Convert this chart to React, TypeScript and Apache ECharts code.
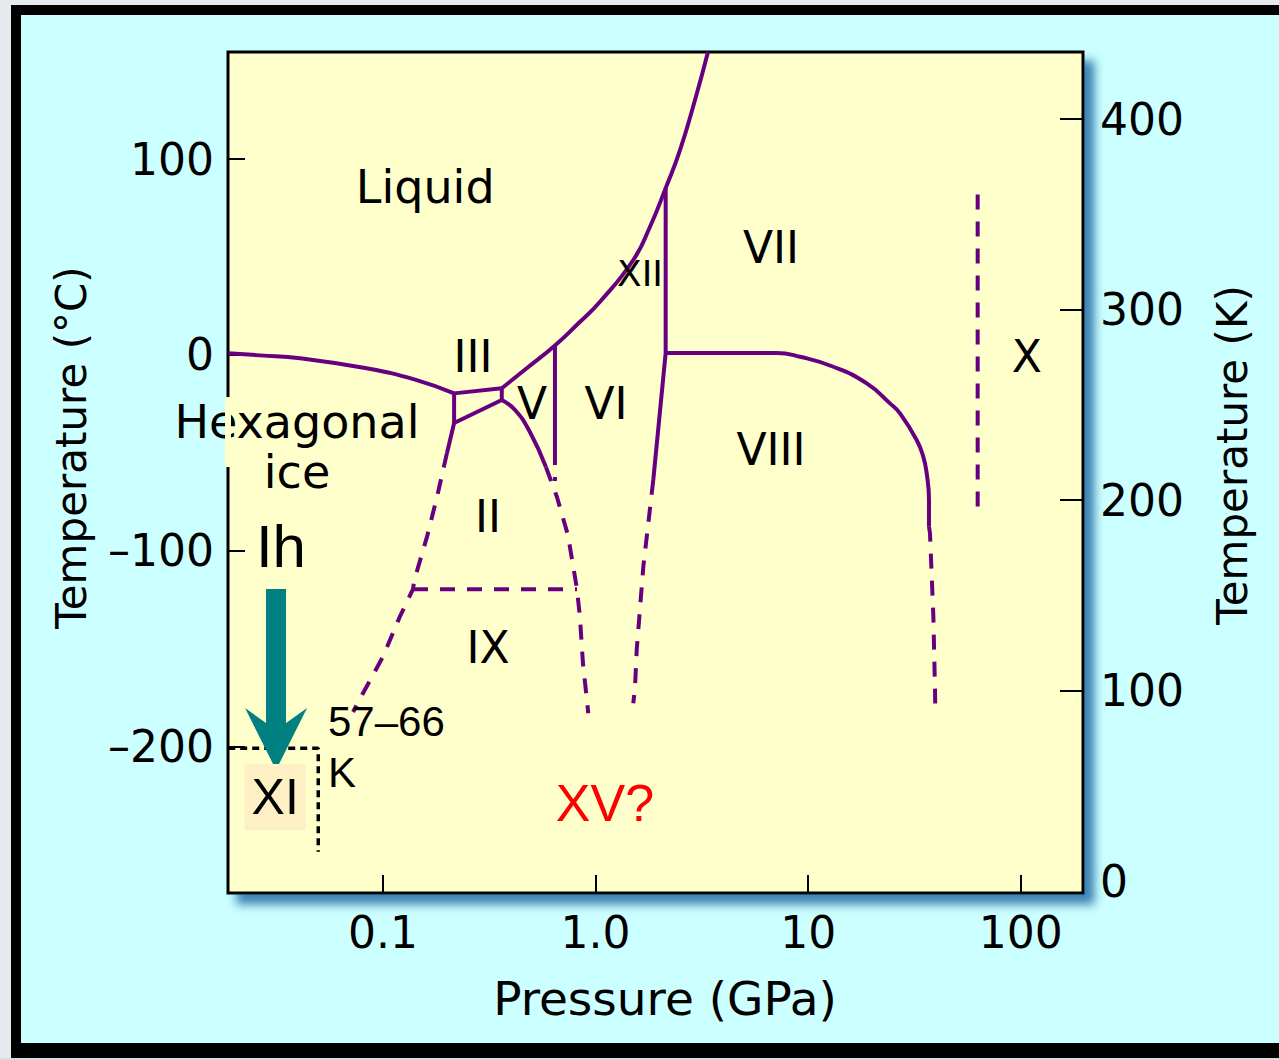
import React, { useEffect, useRef } from "react";
import * as echarts from "echarts";

// ---- axes ----
const pressureRange = [0.01866, 196.2]; // GPa (log)
const celsiusRange = [-274.7, 154.7];
const kelvinRange = [-6.1, 435.2];
const pressureTickLabels: Record<string, string> = { "-1": "0.1", "0": "1.0", "1": "10", "2": "100" };
const celsiusTickValues = [-200, -100, 0, 100];
const kelvinLabelValues = [0, 100, 200, 300, 400];
const kelvinTickValues = [100, 200, 300, 400];

// ---- phase boundaries: [pressure GPa, temperature °C] ----
const ihLiquid = [[0.0187, 0.9], [0.0264, -0.2], [0.0407, -1.7], [0.0838, -6.8], [0.144, -12.8], [0.216, -19.6]];
const iiiLiquid = [[0.216, -19.6], [0.362, -17.0]];
const highLiquid = [[0.362, -17.0], [0.4742, -6.8], [0.644, 4.9], [0.815, 15.3], [1.049, 27.2], [1.504, 48.5], [1.803, 65.5], [2.136, 85.2], [2.495, 104.6], [2.935, 130.2], [3.378, 154.7]];
const iceIIIBox = [[0.216, -19.6], [0.216, -34.7], [0.362, -23.0], [0.362, -17.0]];
const iiVSolid = [[0.362, -23.0], [0.418, -28.1], [0.491, -39.3], [0.584, -57.2]];
const iiVDashed = [[0.584, -57.2], [0.658, -72.5], [0.741, -91.9], [0.8, -113.4], [0.8175, -119.6], [0.844, -133.8], [0.872, -157.3], [0.924, -182.9]];
const ihIISolid = [[0.216, -34.7], [0.2, -50.0]];
const ihIIDashed = [[0.2, -50.0], [0.1795, -72.5], [0.161, -92.9], [0.14, -115.4], [0.1384, -119.6], [0.12, -133.6], [0.1, -154.0], [0.0805, -172.7], [0.0723, -182.3]];
const iiIXDashed = [[0.1384, -119.6], [0.8175, -119.6]];
const vViSolid = [[0.644, 4.9], [0.644, -48.5]];
const vViDashed = [[0.644, -48.5], [0.644, -64.3]];
const viVii = [[2.136, 85.2], [2.136, 1.0]];
const viiViiiSolid = [[2.136, 1.0], [7.11, 1.0], [9.15, -0.9], [13.13, -6.0], [18.85, -14.5], [24.25, -24.7], [27.03, -29.8], [32.37, -43.4], [34.78, -51.9], [36.09, -60.4], [37.0, -74.0], [37.0, -87.7]];
const viiViiiDashed = [[37.0, -87.7], [37.4, -90.9], [38.8, -133.6], [39.5, -171.0], [39.6, -179.6]];
const viViiiSolid = [[2.136, 1.0], [1.868, -63.8]];
const viViiiDashed = [[1.868, -63.8], [1.677, -108.1], [1.561, -150.6], [1.532, -170.2], [1.504, -177.8]];
const xBoundary = [[62.7, 82.0], [62.7, -82.6]];
const xiBoundary = [[0.0187, -200.8], [0.0496, -200.8], [0.0496, -253.6]];

// ---- labels ----
const regionLabels = ["Liquid", "III", "V", "VI", "XII", "VII", "VIII", "X", "Hexagonal\nice", "II", "IX"];
const regionLabelP = [0.158, 0.265, 0.502, 1.119, 1.618, 6.68, 6.68, 106.9, 0.0394, 0.312, 0.312];
const regionLabelT = [85.7, -1.0, -25.0, -25.0, 41.8, 55.1, -48.5, -1.0, -47.0, -82.7, -149.6];
const regionLabelSize = [46, 44, 44, 44, 36, 44, 44, 44, 46, 44, 44];

const noteLabels = ["Ih", "XI", "57–66\nK", "XV?"];
const noteLabelP = [0.0331, 0.0311, 0.0551, 1.107];
const noteLabelT = [-98.0, -225.7, -200.4, -228.7];

// cooling arrow Ih -> XI: pressure, start T, tip T
const arrowData = [[0.0314, -119.5, -211.9]];

const PURPLE = "#660080";
const FONT = "'DejaVu Sans', sans-serif";
const ARIAL = "'Liberation Sans', Arial, sans-serif";

function boundary(data: number[][], dashed: boolean, smooth: number | boolean = false, color = PURPLE, width = 4, dash: number[] = [15, 12]) {
  return {
    type: "line",
    data,
    symbol: "none",
    showSymbol: false,
    smooth,
    smoothMonotone: "none",
    silent: true,
    clip: true,
    z: 3,
    lineStyle: { color, width, type: dashed ? dash : "solid", cap: "butt" },
  };
}

const plainLabel = {
  show: true,
  position: "inside",
  formatter: "{b}",
  color: "#000",
  opacity: 1,
  textBorderWidth: 0,
  textBorderColor: "transparent",
  textShadowBlur: 0,
  align: "center",
};

export default function App() {
  const ref = useRef<HTMLDivElement>(null);
  useEffect(() => {
    if (!ref.current) return;
    const chart = echarts.init(ref.current, undefined, { renderer: "svg" });
    const option: any = {
      animation: false,
      backgroundColor: "#CCFFFF",
      grid: {
        show: true,
        left: 228,
        top: 52,
        right: 196,
        bottom: 167,
        backgroundColor: "#FFFFCC",
        borderColor: "#000",
        borderWidth: 3,
        shadowColor: "rgba(20,100,160,0.8)",
        shadowBlur: 10,
        shadowOffsetX: 10,
        shadowOffsetY: 10,
        outerBoundsMode: "none",
      },
      xAxis: {
        type: "log",
        logBase: 10,
        min: pressureRange[0],
        max: pressureRange[1],
        position: "bottom",
        name: "Pressure (GPa)",
        nameLocation: "middle",
        nameGap: 82,
        nameMoveOverlap: false,
        nameTextStyle: { fontFamily: FONT, fontSize: 47, color: "#000", padding: [0, 0, 0, 19] },
        axisLine: { show: false, onZero: false },
        axisTick: { show: true, inside: true, length: 18, lineStyle: { color: "#000", width: 2 } },
        splitLine: { show: false },
        axisLabel: {
          showMinLabel: false,
          showMaxLabel: false,
          margin: 17,
          fontFamily: FONT,
          fontSize: 44,
          color: "#000",
          formatter: (v: number) => pressureTickLabels[String(Math.round(Math.log10(v)))] ?? "",
        },
      },
      yAxis: [
        {
          type: "value",
          min: celsiusRange[0],
          max: celsiusRange[1],
          position: "left",
          name: "Temperature (°C)",
          nameLocation: "middle",
          nameRotate: 90,
          nameGap: 136,
          nameMoveOverlap: false,
          nameTextStyle: { fontFamily: FONT, fontSize: 42, color: "#000", padding: [0, 0, 0, 50] },
          axisLine: { show: false, onZero: false },
          splitLine: { show: false },
          axisTick: { show: true, inside: true, length: 17, customValues: celsiusTickValues, lineStyle: { color: "#000", width: 2 } },
          axisLabel: {
            customValues: celsiusTickValues,
            margin: 14,
            fontFamily: FONT,
            fontSize: 44,
            color: "#000",
            formatter: (v: number) => (v < 0 ? "–" + Math.abs(v) : String(v)),
          },
        },
        {
          type: "value",
          min: kelvinRange[0],
          max: kelvinRange[1],
          position: "right",
          name: "Temperature (K)",
          nameLocation: "middle",
          nameRotate: 90,
          nameGap: 128,
          nameMoveOverlap: false,
          nameTextStyle: { fontFamily: FONT, fontSize: 42, color: "#000", padding: [0, 0, 0, 35] },
          axisLine: { show: false, onZero: false },
          splitLine: { show: false },
          axisTick: { show: true, inside: true, length: 23, customValues: kelvinTickValues, lineStyle: { color: "#000", width: 2 } },
          axisLabel: {
            customValues: kelvinLabelValues,
            margin: 17,
            fontFamily: FONT,
            fontSize: 44,
            color: "#000",
          },
        },
      ],
      series: [
        boundary(ihLiquid, false, 0.5),
        boundary(iiiLiquid, false),
        boundary(highLiquid, false, 0.5),
        boundary(iceIIIBox, false),
        boundary(iiVSolid, false, 0.5),
        boundary(iiVDashed, true),
        boundary(ihIISolid, false),
        boundary(ihIIDashed, true),
        boundary(iiIXDashed, true),
        boundary(vViSolid, false),
        boundary(vViDashed, true),
        boundary(viVii, false),
        boundary(viiViiiSolid, false, 0.5),
        boundary(viiViiiDashed, true),
        boundary(viViiiSolid, false),
        boundary(viViiiDashed, true),
        boundary(xBoundary, true),
        boundary(xiBoundary, true, false, "#000", 3.5, [7, 5]),
        {
          type: "custom",
          silent: true,
          z: 4,
          data: arrowData,
          encode: { x: 0, y: [1, 2] },
          renderItem: (_p: any, api: any) => {
            const top = api.coord([api.value(0), api.value(1)]);
            const tip = api.coord([api.value(0), api.value(2)]);
            const cx = tip[0];
            const ty = tip[1];
            return {
              type: "polygon",
              shape: {
                points: [
                  [cx - 10, top[1]],
                  [cx + 10, top[1]],
                  [cx + 10, ty - 47],
                  [cx + 31, ty - 62],
                  [cx, ty],
                  [cx - 31, ty - 62],
                  [cx - 10, ty - 47],
                ],
              },
              style: { fill: "#008080" },
            };
          },
        },
        {
          type: "scatter",
          silent: true,
          symbolSize: 1,
          itemStyle: { color: "#000", opacity: 0 },
          z: 6,
          data: regionLabels.map((name, i) => ({
            name,
            value: [regionLabelP[i], regionLabelT[i]],
            label: { fontSize: regionLabelSize[i] },
          })),
          label: { ...plainLabel, fontFamily: FONT, fontSize: 44, lineHeight: 50 },
        },
        {
          type: "scatter",
          silent: true,
          symbolSize: 1,
          itemStyle: { color: "#000", opacity: 0 },
          z: 7,
          data: noteLabels.map((name, i) => {
            const styles: any[] = [
              { fontSize: 60 },
              { fontSize: 50, lineHeight: 50, backgroundColor: "#FFEFC4", padding: [8, 7, 8, 7] },
              { fontSize: 42, lineHeight: 51, align: "left" },
              { fontSize: 52, color: "#FF0000" },
            ];
            return { name, value: [noteLabelP[i], noteLabelT[i]], label: styles[i] };
          }),
          label: { ...plainLabel, fontFamily: ARIAL },
        },
      ],
    };
    chart.setOption(option);

    // patch hiding the axis line behind the "Hexagonal ice" label
    const a = chart.convertToPixel({ gridIndex: 0 }, [pressureRange[0], -21.5]) as number[];
    const b = chart.convertToPixel({ gridIndex: 0 }, [pressureRange[0], -57.2]) as number[];
    chart.setOption({
      graphic: [
        { type: "rect", shape: { x: 0, y: 0, width: 1279, height: 5 }, style: { fill: "#E6EAEE" } },
        { type: "rect", shape: { x: 0, y: 0, width: 11, height: 1060 }, style: { fill: "#E6EAEE" } },
        { type: "rect", shape: { x: 0, y: 1058, width: 1279, height: 2 }, style: { fill: "#D8DCE0" } },
        { type: "rect", shape: { x: 11, y: 5, width: 1268, height: 10 }, style: { fill: "#000" } },
        { type: "rect", shape: { x: 11, y: 5, width: 10, height: 1053 }, style: { fill: "#000" } },
        { type: "rect", shape: { x: 11, y: 1043, width: 1268, height: 15 }, style: { fill: "#000" } },
        { type: "rect", z: 100, shape: { x: a[0] - 3, y: a[1], width: 6, height: b[1] - a[1] }, style: { fill: "#FFFFCC" } },
      ],
    });
    return () => chart.dispose();
  }, []);
  return <div ref={ref} style={{ position: "fixed", left: 0, top: 0, width: 1279, height: 1060 }} />;
}
